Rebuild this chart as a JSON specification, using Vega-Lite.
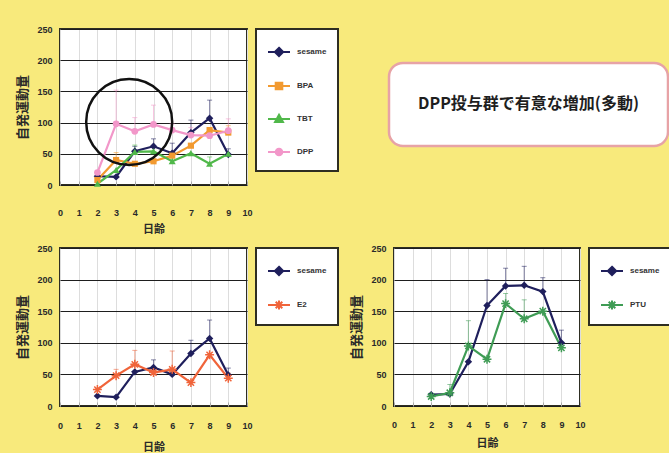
{
  "$schema": "https://vega.github.io/schema/vega-lite/v6.json",
  "padding": {"left": 15, "top": 24, "right": 0, "bottom": 0},
  "background": "#f8ea7c",
  "datasets": {
    "top": [
      {"day": 2, "series": "sesame", "v": 14},
      {"day": 3, "series": "sesame", "v": 13},
      {"day": 4, "series": "sesame", "v": 54, "hi": 62},
      {"day": 5, "series": "sesame", "v": 62, "hi": 74},
      {"day": 6, "series": "sesame", "v": 51, "hi": 67},
      {"day": 7, "series": "sesame", "v": 84, "hi": 104},
      {"day": 8, "series": "sesame", "v": 107, "hi": 136},
      {"day": 9, "series": "sesame", "v": 49, "hi": 58},
      {"day": 2, "series": "BPA", "v": 8},
      {"day": 3, "series": "BPA", "v": 40, "hi": 52},
      {"day": 4, "series": "BPA", "v": 34},
      {"day": 5, "series": "BPA", "v": 38},
      {"day": 6, "series": "BPA", "v": 47},
      {"day": 7, "series": "BPA", "v": 63},
      {"day": 8, "series": "BPA", "v": 88},
      {"day": 9, "series": "BPA", "v": 84, "hi": 95},
      {"day": 2, "series": "TBT", "v": 2},
      {"day": 3, "series": "TBT", "v": 24},
      {"day": 4, "series": "TBT", "v": 53, "hi": 64},
      {"day": 5, "series": "TBT", "v": 54},
      {"day": 6, "series": "TBT", "v": 38, "hi": 46},
      {"day": 7, "series": "TBT", "v": 51},
      {"day": 8, "series": "TBT", "v": 34, "hi": 45},
      {"day": 9, "series": "TBT", "v": 50},
      {"day": 2, "series": "DPP", "v": 20},
      {"day": 3, "series": "DPP", "v": 98, "hi": 152},
      {"day": 4, "series": "DPP", "v": 86, "hi": 108},
      {"day": 5, "series": "DPP", "v": 97, "hi": 128},
      {"day": 6, "series": "DPP", "v": 88, "hi": 98},
      {"day": 7, "series": "DPP", "v": 80, "hi": 92},
      {"day": 8, "series": "DPP", "v": 79},
      {"day": 9, "series": "DPP", "v": 87, "hi": 106}
    ],
    "mark_circle": [
      {"day": 3.7, "v": 101}
    ],
    "bl": [
      {"day": 2, "series": "sesame", "v": 16},
      {"day": 3, "series": "sesame", "v": 14},
      {"day": 4, "series": "sesame", "v": 54},
      {"day": 5, "series": "sesame", "v": 61, "hi": 73},
      {"day": 6, "series": "sesame", "v": 50},
      {"day": 7, "series": "sesame", "v": 83, "hi": 104},
      {"day": 8, "series": "sesame", "v": 107, "hi": 136},
      {"day": 9, "series": "sesame", "v": 49, "hi": 60},
      {"day": 2, "series": "E2", "v": 26},
      {"day": 3, "series": "E2", "v": 48, "hi": 58},
      {"day": 4, "series": "E2", "v": 66, "hi": 88},
      {"day": 5, "series": "E2", "v": 53},
      {"day": 6, "series": "E2", "v": 58, "hi": 87},
      {"day": 7, "series": "E2", "v": 37},
      {"day": 8, "series": "E2", "v": 81},
      {"day": 9, "series": "E2", "v": 44, "hi": 52}
    ],
    "br": [
      {"day": 2, "series": "sesame", "v": 18},
      {"day": 3, "series": "sesame", "v": 19},
      {"day": 4, "series": "sesame", "v": 70},
      {"day": 5, "series": "sesame", "v": 159, "hi": 200},
      {"day": 6, "series": "sesame", "v": 190, "hi": 218},
      {"day": 7, "series": "sesame", "v": 191, "hi": 221},
      {"day": 8, "series": "sesame", "v": 181, "hi": 203},
      {"day": 9, "series": "sesame", "v": 100, "hi": 120},
      {"day": 2, "series": "PTU", "v": 15},
      {"day": 3, "series": "PTU", "v": 21, "hi": 34},
      {"day": 4, "series": "PTU", "v": 95, "hi": 135},
      {"day": 5, "series": "PTU", "v": 74},
      {"day": 6, "series": "PTU", "v": 162, "hi": 178},
      {"day": 7, "series": "PTU", "v": 138, "hi": 168},
      {"day": 8, "series": "PTU", "v": 150},
      {"day": 9, "series": "PTU", "v": 92}
    ],
    "note": [
      {"label": "DPP投与群で有意な増加(多動)"}
    ]
  },
  "resolve": {
    "scale": {"color": "independent", "shape": "independent", "stroke": "independent"},
    "legend": {"color": "independent", "shape": "independent", "stroke": "independent"}
  },
  "vconcat": [
    {
      "center": true,
      "resolve": {
        "scale": {"color": "independent", "shape": "independent", "stroke": "independent"},
        "legend": {"color": "independent", "shape": "independent", "stroke": "independent"}
      },
      "hconcat": [
        {
          "width": 187,
          "height": 156,
          "data": {"name": "top"},
          "encoding": {
            "x": {
              "field": "day", "type": "quantitative",
              "scale": {"domain": [0, 10]},
              "axis": {"values": [0, 1, 2, 3, 4, 5, 6, 7, 8, 9, 10], "title": "日齢", "labelPadding": 27, "titlePadding": 6}
            },
            "y": {
              "field": "v", "type": "quantitative",
              "scale": {"domain": [0, 250]},
              "axis": {"values": [0, 50, 100, 150, 200, 250], "title": "自発運動量", "grid": true}
            }
          },
          "layer": [
            {
              "transform": [{"filter": "isValid(datum.hi)"}],
              "mark": {"type": "rule", "strokeWidth": 1, "opacity": 0.55},
              "encoding": {
                "y2": {"field": "hi"},
                "color": {"field": "series", "scale": {"domain": ["sesame", "BPA", "TBT", "DPP"], "range": ["#1f1f5c", "#f29a30", "#50b84a", "#f297c9"]}}
              }
            },
            {
              "transform": [{"filter": "isValid(datum.hi)"}],
              "mark": {"type": "tick", "orient": "horizontal", "size": 5, "thickness": 1, "opacity": 0.55},
              "encoding": {"y": {"field": "hi", "type": "quantitative"}, "color": {"field": "series"}}
            },
            {
              "mark": {"type": "line", "strokeWidth": 2.2},
              "encoding": {"color": {"field": "series"}}
            },
            {
              "mark": {"type": "point", "filled": true, "opacity": 0},
              "encoding": {
                "color": {"field": "series"},
                "shape": {"field": "series", "scale": {"domain": ["sesame", "BPA", "TBT", "DPP"], "range": ["M-1,0H1M0,-0.38L0.38,0L0,0.38L-0.38,0Z", "M-1,0H1M-0.3,-0.3H0.3V0.3H-0.3Z", "M-1,0H1M0,-0.38L0.36,0.28H-0.36Z", "M-1,0H1M0.3,0A0.3,0.3,0,1,1,-0.3,0A0.3,0.3,0,1,1,0.3,0Z"]}},
                "stroke": {"field": "series", "scale": {"domain": ["sesame", "BPA", "TBT", "DPP"], "range": ["#1f1f5c", "#f29a30", "#50b84a", "#f297c9"]}}
              }
            },
            {
              "transform": [{"filter": "datum.series === 'sesame'"}],
              "mark": {"type": "point", "shape": "diamond", "filled": true, "size": 55, "opacity": 1},
              "encoding": {"color": {"field": "series"}}
            },
            {
              "transform": [{"filter": "datum.series === 'BPA'"}],
              "mark": {"type": "point", "shape": "square", "filled": true, "size": 38, "opacity": 1},
              "encoding": {"color": {"field": "series"}}
            },
            {
              "transform": [{"filter": "datum.series === 'TBT'"}],
              "mark": {"type": "point", "shape": "triangle-up", "filled": true, "size": 50, "opacity": 1},
              "encoding": {"color": {"field": "series"}}
            },
            {
              "transform": [{"filter": "datum.series === 'DPP'"}],
              "mark": {"type": "point", "shape": "circle", "filled": true, "size": 45, "opacity": 1},
              "encoding": {"color": {"field": "series"}}
            },
            {
              "data": {"name": "mark_circle"},
              "mark": {"type": "point", "shape": "circle", "filled": false, "size": 7400, "stroke": "#111111", "strokeWidth": 2.5, "opacity": 1}
            }
          ]
        },
        {
          "width": 279,
          "height": 83,
          "title": {"text": " ", "orient": "bottom", "fontSize": 10, "offset": 44},
          "data": {"name": "note"},
          "view": {"fill": "#ffffff", "stroke": "#e7a3a6", "strokeWidth": 2.5, "cornerRadius": 14},
          "mark": {"type": "text", "font": "Noto Sans CJK JP", "fontSize": 16, "fontWeight": "bold", "color": "#1e1e1e"},
          "encoding": {"text": {"field": "label"}}
        }
      ],
      "spacing": 47
    },
    {
      "resolve": {
        "scale": {"color": "independent", "shape": "independent", "stroke": "independent"},
        "legend": {"color": "independent", "shape": "independent", "stroke": "independent"}
      },
      "hconcat": [
        {
          "width": 187,
          "height": 158,
          "data": {"name": "bl"},
          "encoding": {
            "x": {
              "field": "day", "type": "quantitative",
              "scale": {"domain": [0, 10]},
              "axis": {"values": [0, 1, 2, 3, 4, 5, 6, 7, 8, 9, 10], "title": "日齢", "labelPadding": 19, "titlePadding": 11}
            },
            "y": {
              "field": "v", "type": "quantitative",
              "scale": {"domain": [0, 250]},
              "axis": {"values": [0, 50, 100, 150, 200, 250], "title": "自発運動量", "grid": true}
            }
          },
          "layer": [
            {
              "transform": [{"filter": "isValid(datum.hi)"}],
              "mark": {"type": "rule", "strokeWidth": 1, "opacity": 0.55},
              "encoding": {
                "y2": {"field": "hi"},
                "color": {"field": "series", "scale": {"domain": ["sesame", "E2"], "range": ["#1f1f5c", "#f0643a"]}}
              }
            },
            {
              "transform": [{"filter": "isValid(datum.hi)"}],
              "mark": {"type": "tick", "orient": "horizontal", "size": 5, "thickness": 1, "opacity": 0.55},
              "encoding": {"y": {"field": "hi", "type": "quantitative"}, "color": {"field": "series"}}
            },
            {
              "mark": {"type": "line", "strokeWidth": 2.2},
              "encoding": {"color": {"field": "series"}}
            },
            {
              "mark": {"type": "point", "filled": true, "opacity": 0},
              "encoding": {
                "color": {"field": "series"},
                "shape": {"field": "series", "scale": {"domain": ["sesame", "E2"], "range": ["M-1,0H1M0,-0.38L0.38,0L0,0.38L-0.38,0Z", "M-1,0H1M0,-0.42V0.42M-0.3,-0.3L0.3,0.3M-0.3,0.3L0.3,-0.3"]}},
                "stroke": {"field": "series", "scale": {"domain": ["sesame", "E2"], "range": ["#1f1f5c", "#f0643a"]}}
              }
            },
            {
              "transform": [{"filter": "datum.series === 'sesame'"}],
              "mark": {"type": "point", "shape": "diamond", "filled": true, "size": 55, "opacity": 1},
              "encoding": {"color": {"field": "series"}}
            },
            {
              "transform": [{"filter": "datum.series === 'E2'"}],
              "mark": {"type": "point", "shape": "M-1,0H1M0,-1V1M-0.7,-0.7L0.7,0.7M-0.7,0.7L0.7,-0.7", "filled": false, "size": 80, "strokeWidth": 1.5, "opacity": 1},
              "encoding": {"color": {"field": "series"}}
            }
          ]
        },
        {
          "width": 186,
          "height": 158,
          "data": {"name": "br"},
          "encoding": {
            "x": {
              "field": "day", "type": "quantitative",
              "scale": {"domain": [0, 10]},
              "axis": {"values": [0, 1, 2, 3, 4, 5, 6, 7, 8, 9, 10], "title": "日齢", "labelPadding": 18, "titlePadding": 8}
            },
            "y": {
              "field": "v", "type": "quantitative",
              "scale": {"domain": [0, 250]},
              "axis": {"values": [0, 50, 100, 150, 200, 250], "title": "自発運動量", "grid": true}
            }
          },
          "layer": [
            {
              "transform": [{"filter": "isValid(datum.hi)"}],
              "mark": {"type": "rule", "strokeWidth": 1, "opacity": 0.55},
              "encoding": {
                "y2": {"field": "hi"},
                "color": {"field": "series", "scale": {"domain": ["sesame", "PTU"], "range": ["#1f1f5c", "#3f9c55"]}}
              }
            },
            {
              "transform": [{"filter": "isValid(datum.hi)"}],
              "mark": {"type": "tick", "orient": "horizontal", "size": 5, "thickness": 1, "opacity": 0.55},
              "encoding": {"y": {"field": "hi", "type": "quantitative"}, "color": {"field": "series"}}
            },
            {
              "mark": {"type": "line", "strokeWidth": 2.2},
              "encoding": {"color": {"field": "series"}}
            },
            {
              "mark": {"type": "point", "filled": true, "opacity": 0},
              "encoding": {
                "color": {"field": "series"},
                "shape": {"field": "series", "scale": {"domain": ["sesame", "PTU"], "range": ["M-1,0H1M0,-0.38L0.38,0L0,0.38L-0.38,0Z", "M-1,0H1M0,-0.42V0.42M-0.3,-0.3L0.3,0.3M-0.3,0.3L0.3,-0.3"]}},
                "stroke": {"field": "series", "scale": {"domain": ["sesame", "PTU"], "range": ["#1f1f5c", "#3f9c55"]}}
              }
            },
            {
              "transform": [{"filter": "datum.series === 'sesame'"}],
              "mark": {"type": "point", "shape": "diamond", "filled": true, "size": 55, "opacity": 1},
              "encoding": {"color": {"field": "series"}}
            },
            {
              "transform": [{"filter": "datum.series === 'PTU'"}],
              "mark": {"type": "point", "shape": "M-1,0H1M0,-1V1M-0.7,-0.7L0.7,0.7M-0.7,0.7L0.7,-0.7", "filled": false, "size": 80, "strokeWidth": 1.5, "opacity": 1},
              "encoding": {"color": {"field": "series"}}
            }
          ]
        }
      ],
      "spacing": 9
    }
  ],
  "spacing": 8,
  "config": {
    "view": {"fill": "#ffffff", "stroke": "#2e2e22", "strokeWidth": 2},
    "axis": {
      "labelFont": "Liberation Sans", "labelFontWeight": "bold", "labelFontSize": 9, "labelColor": "#2a2a2a",
      "titleFont": "Noto Sans CJK JP", "titleFontWeight": "bold", "titleColor": "#2a2a2a",
      "domain": false, "labelFlush": false, "labelOverlap": false
    },
    "axisX": {"ticks": true, "tickSize": -4, "tickColor": "#aaaaaa", "titleFontSize": 11},
    "axisY": {"ticks": false, "labelPadding": 8, "titlePadding": 7, "titleFontSize": 13, "gridColor": "#1e1e1e", "gridWidth": 1, "gridOpacity": 1},
    "legend": {
      "title": null, "orient": "right", "offset": 9, "padding": 11, "rowPadding": 13,
      "symbolSize": 484, "symbolOpacity": 1, "symbolStrokeWidth": 2, "labelOffset": 6,
      "strokeColor": "#2e2e22", "strokeWidth": 2, "fillColor": "#ffffff",
      "labelFont": "Liberation Sans", "labelFontSize": 8, "labelFontWeight": "bold", "labelColor": "#333333"
    }
  }
}
